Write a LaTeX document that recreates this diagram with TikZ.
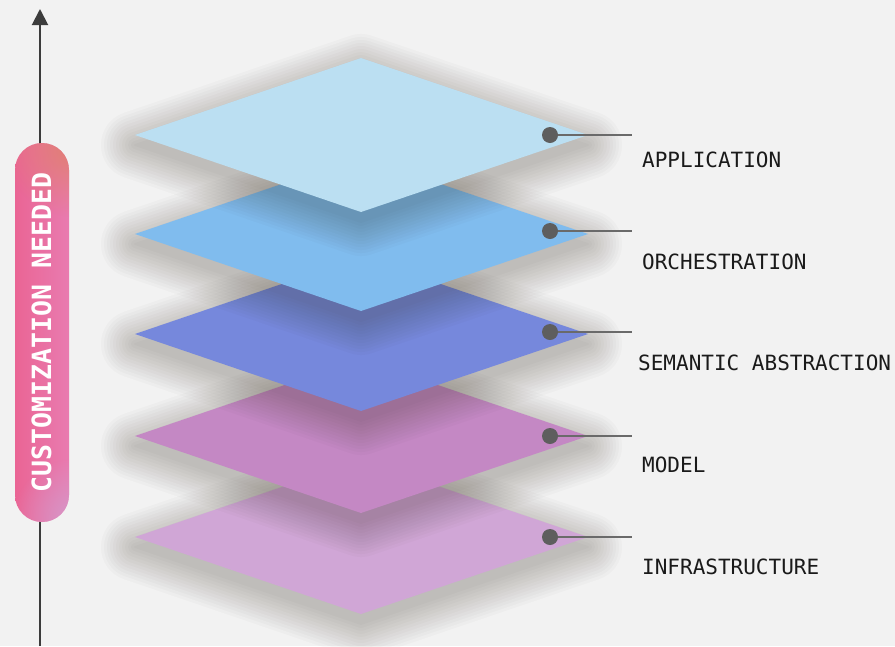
\documentclass[tikz,border=0pt]{standalone}
\usepackage{fontspec}
\setmonofont{DejaVu Sans Mono}
\usetikzlibrary{arrows.meta,fadings}
\definecolor{bg}{HTML}{F2F2F2}
\definecolor{shadowcol}{RGB}{60,50,35}
\definecolor{cA}{HTML}{BBDFF2}
\definecolor{cB}{HTML}{80BCEE}
\definecolor{cC}{HTML}{7688DC}
\definecolor{cD}{HTML}{C488C4}
\definecolor{cE}{HTML}{D0A6D6}
\definecolor{pinkL}{HTML}{EA6595}
\definecolor{pinkM}{HTML}{EE6AA2}
\definecolor{pinkR}{HTML}{E97BB0}
\definecolor{pinkTop}{HTML}{E0806A}
\definecolor{pinkBot}{HTML}{D49ACB}
\definecolor{arrowgray}{HTML}{3C3C3C}
\definecolor{dotgray}{HTML}{5E5E5E}
\definecolor{linegray}{HTML}{6A6A6A}
\definecolor{labelcol}{HTML}{1A1A1A}
\tikzfading[name=glow, inner color=transparent!0, outer color=transparent!100]
\newcommand\layershadow[1]{%
  \foreach \d in {1,4,...,34} {%
    \begin{scope}[transparency group, opacity=0.025]
      \filldraw[shadowcol, line width=2*\d, line join=round]
        (135,#1+10) -- (361,#1+10-77) -- (588,#1+10) -- (361,#1+10+77) -- cycle;
    \end{scope}
  }}
\newcommand\layerplate[2]{%
  \fill[#2] (135,#1) -- (361,#1-77) -- (588,#1) -- (361,#1+77) -- cycle;}
\begin{document}
\begin{tikzpicture}[x=1pt,y=-1pt,
  arrowline/.style={draw=arrowgray, line width=2pt},
  pillbox/.style={rounded corners=27pt, inner sep=0pt, minimum width=54pt, minimum height=379pt},
  vtext/.style={rotate=90, text=white, inner sep=0pt, font=\ttfamily\bfseries\fontsize{26.5}{26.5}\selectfont},
  dotnode/.style={circle, fill=dotgray, minimum size=16pt, inner sep=0pt},
  conn/.style={draw=linegray, line width=2pt},
  lbl/.style={anchor=west, inner sep=0pt, text=labelcol, font=\ttfamily\fontsize{21}{21}\selectfont}]
\fill[bg] (0,0) rectangle (895,646);
\useasboundingbox (0,0) rectangle (895,646);

% layers, bottom first
\layershadow{537}\layerplate{537}{cE}
\layershadow{436}\layerplate{436}{cD}
\layershadow{334}\layerplate{334}{cC}
\layershadow{234}\layerplate{234}{cB}
\layershadow{135}\layerplate{135}{cA}

% axis arrow
\coordinate (abot) at (40,646);
\coordinate (atop) at (40,9);
\draw[arrowline, -{Triangle[width=16pt,length=16pt]}] (abot) -- (atop);

% pill
\node[pillbox, path picture={
   \shade[left color=pinkL, middle color=pinkM, right color=pinkR]
     (path picture bounding box.south west) rectangle (path picture bounding box.north east);
   \fill[pinkTop, opacity=0.9, path fading=glow]
     ([xshift=4pt,yshift=-4pt]path picture bounding box.north east) circle[radius=70pt];
   \fill[pinkBot, opacity=0.9, path fading=glow]
     ([xshift=4pt,yshift=4pt]path picture bounding box.south east) circle[radius=60pt];
  }] (pill) at (42,332.5) {};
\node[vtext] (cust) at (41.5,332.5) {CUSTOMIZATION NEEDED};

% markers and labels
\node[dotnode] (d1) at (550,135) {};
\node[dotnode] (d2) at (550,231) {};
\node[dotnode] (d3) at (550,332) {};
\node[dotnode] (d4) at (550,436) {};
\node[dotnode] (d5) at (550,537) {};
\coordinate (e1) at (632,135);
\coordinate (e2) at (632,231);
\coordinate (e3) at (632,332);
\coordinate (e4) at (632,436);
\coordinate (e5) at (632,537);
\draw[conn] (d1) -- (e1);
\draw[conn] (d2) -- (e2);
\draw[conn] (d3) -- (e3);
\draw[conn] (d4) -- (e4);
\draw[conn] (d5) -- (e5);

\node[lbl] (l1) at (642,160) {APPLICATION};
\node[lbl] (l2) at (642,262) {ORCHESTRATION};
\node[lbl] (l3) at (638,363) {SEMANTIC ABSTRACTION};
\node[lbl] (l4) at (642,465) {MODEL};
\node[lbl] (l5) at (642,567) {INFRASTRUCTURE};
\end{tikzpicture}
\end{document}
